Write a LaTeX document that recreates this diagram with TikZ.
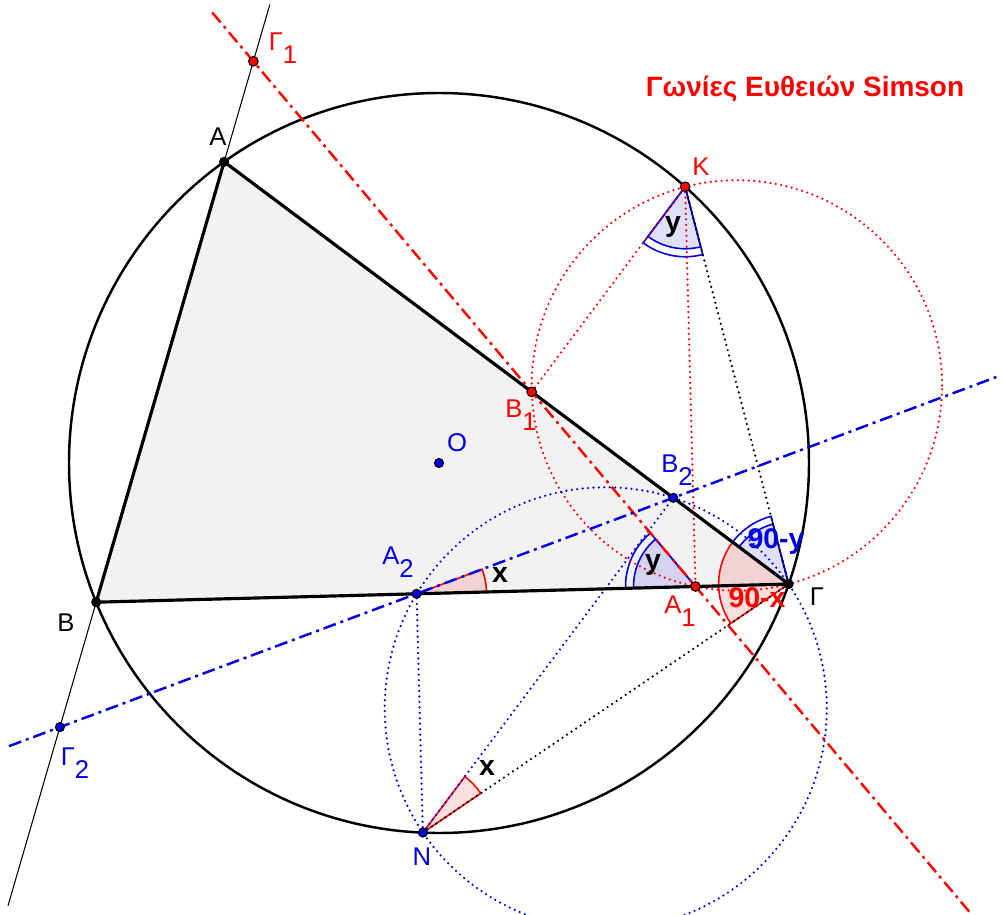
\documentclass[tikz,border=0pt]{standalone}
\usepackage{fontspec}
\setmainfont{Liberation Sans}
\usepackage{tikz}
\usetikzlibrary{calc,through}
\definecolor{ggred}{RGB}{255,0,0}
\definecolor{ggblue}{RGB}{0,0,230}
\definecolor{ggfill}{RGB}{242,242,242}
\newcommand{\lowidx}[1]{\raisebox{-3.8pt}{#1}}
% sector at #2 from the ray to #3 to the ray to #4, radius #5
\newcommand{\angsector}[5][]{%
  \path[#1] let \p1=($(#3)-(#2)$), \p2=($(#4)-(#2)$),
    \n1={atan2(\y1,\x1)}, \n2={mod(atan2(\y2,\x2)-\n1+720,360)} in
    (#2) -- ++(\n1:#5) arc[start angle=\n1, delta angle=\n2, radius=#5] -- cycle;}
\tikzset{
  lbl/.style={font=\fontsize{7.3}{8}\selectfont,inner sep=0pt},
  anglbl/.style={font=\fontsize{8.1}{9}\selectfont\bfseries,inner sep=0pt},
  side/.style={line width=0.9pt,line join=round},
  simson/.style={line width=0.7pt,dash pattern=on 3.7pt off 1.4pt on 0.85pt off 1.4pt},
  dots/.style={line width=0.7pt,line cap=round,dash pattern=on 0pt off 1.55pt},
  redang/.style={draw=ggred,fill=ggred,fill opacity=0.13,line width=0.45pt},
  blueang/.style={draw=ggblue,fill=ggblue,fill opacity=0.12,line width=0.45pt},
  blueedge/.style={draw=ggblue,line width=0.45pt},
  ptblack/.style={fill=black,draw=black,line width=0.3pt},
  ptred/.style={fill=ggred,draw=black,line width=0.3pt},
  ptblue/.style={fill=ggblue,draw=black,line width=0.3pt},
}
\begin{document}
\begin{tikzpicture}
  \useasboundingbox (0,0) rectangle (10.04,9.14);
  \fill[white] (0,0) rectangle (10.04,9.14);
  % triangle on its circumcircle
  \coordinate (O) at (4.39,4.51);
  \coordinate (A) at ($(O)+(125.5:3.7)$);
  \coordinate (B) at ($(O)+(202.1:3.7)$);
  \coordinate (G) at ($(O)+(340.9:3.7)$);
  \coordinate (K) at ($(O)+(48.3:3.7)$);
  \coordinate (N) at ($(O)+(267.5:3.7)$);
  % feet of the perpendiculars
  \coordinate (A1) at ($(B)!(K)!(G)$);
  \coordinate (B1) at ($(A)!(K)!(G)$);
  \coordinate (G1) at ($(A)!(K)!(B)$);
  \coordinate (A2) at ($(B)!(N)!(G)$);
  \coordinate (B2) at ($(A)!(N)!(G)$);
  \coordinate (G2) at ($(A)!(N)!(B)$);
  \fill[ggfill] (A) -- (B) -- (G) -- cycle;

  % angles
  \angsector[redang]{A2}{G}{B2}{0.7}
  \angsector[redang]{N}{G}{B2}{0.7}
  \angsector[redang]{G}{A}{N}{0.7}
  \angsector[blueedge]{A1}{B1}{B}{0.7}
  \angsector[blueang]{A1}{B1}{B}{0.62}
  \angsector[blueedge]{K}{B1}{G}{0.7}
  \angsector[blueang]{K}{B1}{G}{0.62}
  \angsector[blueedge]{G}{K}{A}{0.7}
  \angsector[blueang]{G}{K}{A}{0.62}

  % dotted helpers
  \node[draw=ggred,dots,circle through=(K)] (ck) at ($(K)!0.5!(G)$) {};
  \node[draw=ggblue,dots,circle through=(N)] (cn) at ($(N)!0.5!(G)$) {};
  \draw[dots,ggred] (K) -- (B1);
  \draw[dots,ggred] (K) -- (A1);
  \draw[dots,ggblue] (N) -- (A2);
  \draw[dots,ggblue] (N) -- (B2);
  \draw[dots] (K) -- (G);
  \draw[dots] (N) -- (G);

  \draw[line width=0.7pt] (O) circle (3.7);
  \draw[line width=0.3pt] ($(A)!-0.357!(B)$) -- ($(A)!1.689!(B)$);
  \draw[side] (A) -- (B) -- (G) -- cycle;
  % the two Simson lines
  \draw[simson,ggred] ($(G1)!-0.093!(A1)$) -- ($(G1)!1.624!(A1)$);
  \draw[simson,ggblue] ($(G2)!-0.083!(B2)$) -- ($(G2)!1.534!(B2)$);

  % points
  \fill[ptblack] (A) circle (0.045);
  \fill[ptblack] (B) circle (0.045);
  \fill[ptblack] (G) circle (0.045);
  \fill[ptblue] (O) circle (0.045);
  \fill[ptred] (K) circle (0.048);
  \fill[ptred] (A1) circle (0.048);
  \fill[ptred] (B1) circle (0.048);
  \fill[ptred] (G1) circle (0.048);
  \fill[ptblue] (N) circle (0.045);
  \fill[ptblue] (A2) circle (0.045);
  \fill[ptblue] (B2) circle (0.045);
  \fill[ptblue] (G2) circle (0.045);

  % labels
  \node[lbl] (lA) at (2.18,7.77) {A};
  \node[lbl] (lB) at (0.66,2.91) {B};
  \node[lbl] (lG) at (8.17,3.17) {Γ};
  \node[lbl,ggblue] (lO) at (4.57,4.71) {O};
  \node[lbl,ggred] (lK) at (7.01,7.47) {K};
  \node[lbl,ggred] (lG1) at (2.83,8.66) {Γ\lowidx{1}};
  \node[lbl,ggred] (lB1) at (5.21,4.99) {B\lowidx{1}};
  \node[lbl,ggred] (lA1) at (6.80,3.03) {A\lowidx{1}};
  \node[lbl,ggblue] (lB2) at (6.77,4.44) {B\lowidx{2}};
  \node[lbl,ggblue] (lA2) at (3.98,3.52) {A\lowidx{2}};
  \node[lbl,ggblue] (lG2) at (0.75,1.51) {Γ\lowidx{2}};
  \node[lbl,ggblue] (lN) at (4.22,0.57) {N};
  \node[anglbl] (xa) at (5.00,3.39) {x};
  \node[anglbl] (xn) at (4.87,1.46) {x};
  \node[anglbl] (ya) at (6.53,3.49) {y};
  \node[anglbl] (yk) at (6.73,6.87) {y};
  \node[anglbl,ggblue] (gy) at (7.76,3.72) {90-y};
  \node[anglbl,ggred] (gx) at (7.57,3.16) {90-x};
  \node[font=\fontsize{7.95}{9}\selectfont\bfseries,ggred,inner sep=0pt] (title) at (8.05,8.25) {Γωνίες Ευθειών Simson};
\end{tikzpicture}
\end{document}
